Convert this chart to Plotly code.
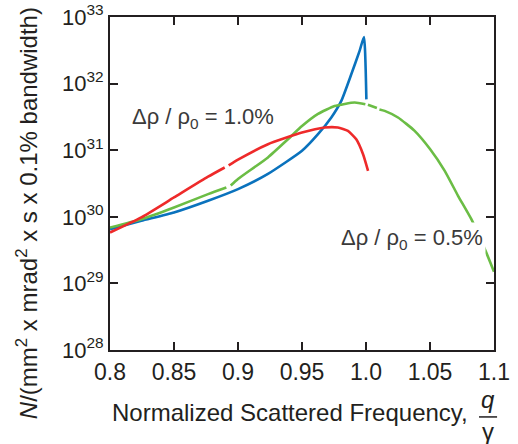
import plotly.graph_objects as go

# Data (x: normalized scattered frequency, y: N); None = small gap in the drawn line
blue_x = [0.800, 0.8245, 0.850, 0.8766, 0.900, 0.9234, 0.950, 0.9625, 0.9729, 0.9807, 0.9885, 0.995, 0.9984, 1.0003]
blue_y = [6.5e29, 8.7e29, 1.16e30, 1.74e30, 2.6e30, 4.4e30, 9.8e30, 1.74e31, 3.1e31, 5.5e31, 1.38e32, 3.1e32, 5.0e32, 5.8e31]

red_x = [0.800, 0.8245, 0.850, 0.8766, 0.8896, None, 0.8927, 0.900, 0.9234, 0.950, 0.9677, 0.978, 0.9859, 0.9924, 0.9977, 1.0016]
red_y = [5.8e29, 9.8e29, 1.95e30, 4.0e30, 5.5e30, None, 5.9e30, 7.2e30, 1.23e31, 1.84e31, 2.19e31, 2.19e31, 1.95e31, 1.46e31, 8.7e30, 4.9e30]

green_x = [0.800, 0.8245, 0.850, 0.8766, 0.8909, None, 0.8943, 0.900, 0.9234, 0.939, 0.950, 0.9625, 0.9755, 0.9911, 0.9995, None,
           1.0015, 1.0085, None, 1.0105, 1.0146, 1.025, 1.038, 1.050, 1.0615, 1.0719, 1.0823, 1.0943, 1.100]
green_y = [6.9e29, 9.2e29, 1.38e30, 2.19e30, 2.75e30, None, 2.95e30, 3.7e30, 7.8e30, 1.46e31, 2.3e31, 3.5e31, 4.6e31, 5.2e31, 4.9e31, None,
           4.8e31, 4.3e31, None, 4.1e31, 3.9e31, 3.1e31, 1.95e31, 1.04e31, 4.9e30, 2.07e30, 9.2e29, 2.8e29, 1.5e29]

x_ticks = [0.8, 0.85, 0.9, 0.95, 1.0, 1.05, 1.1]
x_tick_labels = ["0.8", "0.85", "0.9", "0.95", "1.0", "1.05", "1.1"]
y_ticks = [1e28, 1e29, 1e30, 1e31, 1e32, 1e33]
y_tick_labels = ["10<sup>28</sup>", "10<sup>29</sup>", "10<sup>30</sup>", "10<sup>31</sup>", "10<sup>32</sup>", "10<sup>33</sup>"]

FONT = "Liberation Sans, Arial, sans-serif"
TXT = "#231f20"
LBL = "#3a3a3a"

fig = go.Figure()
fig.add_trace(go.Scatter(x=blue_x, y=blue_y, mode="lines", line=dict(color="#0a72bd", width=2.6, shape="spline", smoothing=0.5), connectgaps=False))
fig.add_trace(go.Scatter(x=green_x, y=green_y, mode="lines", line=dict(color="#6bbd45", width=2.6, shape="spline", smoothing=0.5), connectgaps=False))
fig.add_trace(go.Scatter(x=red_x, y=red_y, mode="lines", line=dict(color="#ee2a2a", width=2.6, shape="spline", smoothing=0.5), connectgaps=False))

fig.update_layout(
    width=518, height=444,
    margin=dict(l=110, r=24, t=17, b=94),
    plot_bgcolor="white", paper_bgcolor="white",
    showlegend=False,
    font=dict(family=FONT, color=TXT),
)
fig.update_xaxes(
    range=[0.8, 1.1], tickvals=x_ticks, ticktext=x_tick_labels,
    ticks="inside", ticklen=8, tickwidth=1.5, tickcolor=TXT,
    showline=True, linecolor=TXT, linewidth=2, mirror="ticks",
    showgrid=False, zeroline=False, tickfont=dict(size=23, color=TXT),
    automargin=False,
)
fig.update_yaxes(
    type="log", range=[27.9999, 33.0001], tickvals=y_ticks, ticktext=y_tick_labels,
    ticks="inside", ticklen=8, tickwidth=1.5, tickcolor=TXT,
    showline=True, linecolor=TXT, linewidth=2, mirror="ticks",
    showgrid=False, zeroline=False, tickfont=dict(size=22, color=TXT),
    automargin=False,
)

fig.add_annotation(x=-0.216, xref="paper", y=0.411, yref="paper", xanchor="center", yanchor="middle", textangle=-90,
                   text="<i>N</i>/(mm<sup>2</sup> x mrad<sup>2</sup> x s x 0.1% bandwidth)", showarrow=False,
                   font=dict(size=24, color=TXT))
fig.add_annotation(x=0.0, xref="paper", y=-0.189, yref="paper", xanchor="left", yanchor="middle",
                   text="Normalized Scattered Frequency,", showarrow=False, font=dict(size=24, color=TXT))
fig.add_annotation(x=0.984, xref="paper", y=-0.150, yref="paper", xanchor="center", yanchor="middle",
                   text="<i>q</i>", showarrow=False, font=dict(size=24, color=TXT))
fig.add_annotation(x=0.984, xref="paper", y=-0.245, yref="paper", xanchor="center", yanchor="middle",
                   text="γ", showarrow=False, font=dict(size=24, color=TXT))
fig.add_shape(type="line", xref="paper", yref="paper", x0=0.961, x1=1.008, y0=-0.201, y1=-0.201,
              line=dict(color=TXT, width=1.5))

fig.add_annotation(x=0.8156, y=31.49, xref="x", yref="y", xanchor="left", yanchor="middle",
                   text="Δρ / ρ<sub>0</sub> = 1.0%", showarrow=False, font=dict(size=22, color=LBL))
fig.add_annotation(x=0.978, y=29.67, xref="x", yref="y", xanchor="left", yanchor="middle",
                   text="Δρ / ρ<sub>0</sub> = 0.5%", showarrow=False, font=dict(size=22, color=LBL),
                   bgcolor="white", borderpad=2)

fig.write_html("out.html", config={"displayModeBar": False},
               post_script="document.body.style.margin='0px';document.body.style.overflow='hidden';")
